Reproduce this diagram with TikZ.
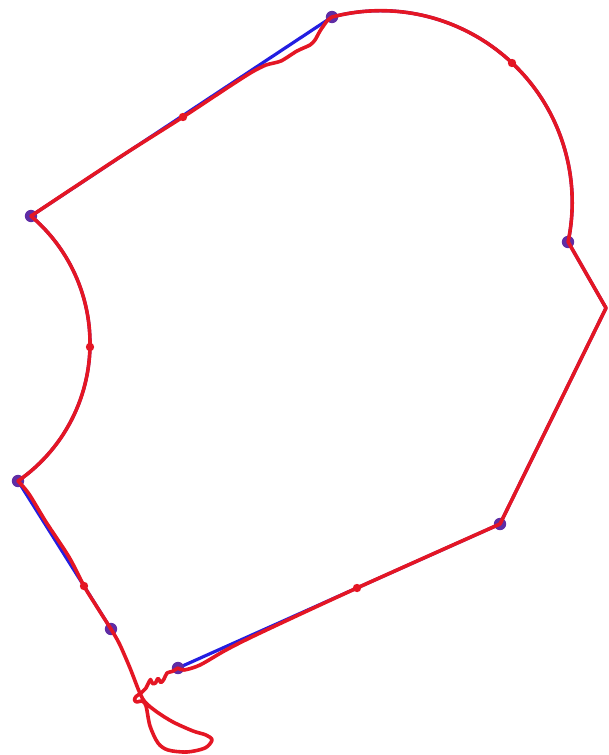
\documentclass[tikz,border=0pt]{standalone}
\usepackage{tikz}
\usetikzlibrary{calc}
\definecolor{pathblue}{RGB}{35,30,225}
\definecolor{pathred}{RGB}{228,22,36}
\definecolor{dotviolet}{RGB}{95,45,165}
\tikzset{
  bluepath/.style={draw=pathblue,line width=3.2pt,line join=round,line cap=round},
  redpath/.style={draw=pathred,line width=3.6pt,line join=round,line cap=round},
  vertexdot/.style={fill=dotviolet},
}
\newcommand{\vdot}[1]{\fill[vertexdot] (#1) circle (6.2);}
\newcommand{\rtick}[1]{\fill[pathred] (#1) circle (4.2);}
\begin{document}
\begin{tikzpicture}[x=1pt,y=-1pt]
  \useasboundingbox (0,0) rectangle (609,755);
  % vertices
  \coordinate (A) at (332,17);
  \coordinate (B) at (568,242);
  \coordinate (C) at (606,308);
  \coordinate (D) at (500,524);
  \coordinate (E) at (178,668);
  \coordinate (F) at (111,629);
  \coordinate (G) at (18,481);
  \coordinate (H) at (31,216);
  % mid marks
  \coordinate (mHA) at (183,117);
  \coordinate (mAB) at (512,63);
  \coordinate (mGH) at (90,347);
  \coordinate (mFG) at (84,586);
  \coordinate (mDE) at (357,588);
  % blue outline
  \draw[bluepath] (H) -- (A) arc[start angle=255.3,end angle=371.9,radius=191.6]
    -- (C) -- (D) -- (E);
  \draw[bluepath] (F) -- (G) arc[start angle=55.3,end angle=-49.7,radius=167.2];
  \foreach \v in {A,B,D,E,F,G,H}{\vdot{\v}}
  % red trace
  \draw[redpath] plot[smooth,tension=0.4] coordinates {(31,216) (120,157) (183,117)
    (230,86) (252,72) (266,65) (281,61) (297,51) (310,45) (315,40) (320,31) (327,21) (332,17)};
  \draw[redpath] (A) arc[start angle=255.3,end angle=371.9,radius=191.6] -- (C) -- (D);
  \draw[redpath] plot[smooth,tension=0.5] coordinates {(500,524) (357,588) (260,633)
    (226,650) (200,665) (184,670) (178,668)};
  \draw[redpath] plot[smooth,tension=0.5] coordinates {(178,668) (172,671.5) (167,673)
    (164,679) (161,682.5) (158,678.5) (155.5,683) (152.5,683.5) (150.5,679.5) (148,684)
    (146,688) (141,693) (136,696.5) (134.5,700) (137,702) (142,701) (146,706) (150,726)
    (158,743) (168,750) (187,752) (205,748) (212,740) (206,735) (193,731) (173,722)
    (157,712) (145,702) (139,691) (130,668) (120,645) (114,634) (111,629)};
  \draw[redpath] plot[smooth,tension=0.5] coordinates {(111,629) (97,607) (84,586)
    (69,557) (46,522) (29,494) (18,481)};
  \draw[redpath] (G) arc[start angle=55.3,end angle=-49.7,radius=167.2];
  \foreach \m in {mHA,mAB,mGH,mFG,mDE}{\rtick{\m}}
\end{tikzpicture}
\end{document}
